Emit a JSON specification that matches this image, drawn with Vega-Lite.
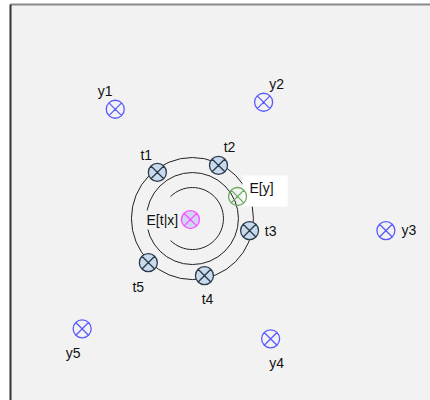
{
  "$schema": "https://vega.github.io/schema/vega-lite/v6.json",
  "width": 430,
  "height": 400,
  "autosize": {"type": "fit", "contains": "padding"},
  "padding": {"left": 10, "top": 4, "right": 0, "bottom": 0},
  "background": "white",
  "config": {
    "view": {"fill": "#f2f2f2", "stroke": null},
    "axis": {"labels": false, "ticks": false, "grid": false, "title": null}
  },
  "datasets": {
    "rings": [
      {"ring": "outer", "x": 193, "y": 181},
      {"ring": "middle", "x": 193, "y": 181},
      {"ring": "inner", "x": 193, "y": 181}
    ],
    "boxes": [
      {"box": "Ey", "x": 243, "x2": 288, "y": 193, "y2": 224},
      {"box": "Etx", "x": 146, "x2": 181, "y": 170, "y2": 189}
    ],
    "markers": [
      {"id": "y1", "kind": "y", "x": 116, "y": 290},
      {"id": "y2", "kind": "y", "x": 264, "y": 297},
      {"id": "y3", "kind": "y", "x": 386, "y": 169},
      {"id": "y4", "kind": "y", "x": 271, "y": 61},
      {"id": "y5", "kind": "y", "x": 83, "y": 71},
      {"id": "t1", "kind": "t", "x": 158, "y": 227},
      {"id": "t2", "kind": "t", "x": 219, "y": 234},
      {"id": "t3", "kind": "t", "x": 250, "y": 169},
      {"id": "t4", "kind": "t", "x": 205, "y": 124},
      {"id": "t5", "kind": "t", "x": 149, "y": 137},
      {"id": "E[t|x]", "kind": "Etx", "x": 191, "y": 180},
      {"id": "E[y]", "kind": "Ey", "x": 238, "y": 203}
    ],
    "labels": [
      {"label": "y1", "x": 106, "y": 307},
      {"label": "y2", "x": 277, "y": 314},
      {"label": "y3", "x": 409, "y": 169},
      {"label": "y4", "x": 277, "y": 36},
      {"label": "y5", "x": 74, "y": 46},
      {"label": "t1", "x": 147, "y": 243},
      {"label": "t2", "x": 230, "y": 251},
      {"label": "t3", "x": 271, "y": 168},
      {"label": "t4", "x": 208, "y": 100},
      {"label": "t5", "x": 139, "y": 112},
      {"label": "E[t|x]", "x": 163, "y": 179},
      {"label": "E[y]", "x": 262, "y": 210}
    ]
  },
  "layer": [
    {
      "data": {"name": "rings"},
      "transform": [{"filter": "datum.ring === 'outer'"}],
      "mark": {"type": "point", "shape": "circle", "size": 14884, "filled": false, "stroke": "#222222", "strokeWidth": 1, "opacity": 1},
      "encoding": {
        "x": {"field": "x", "type": "quantitative", "scale": {"domain": [11, 430], "nice": false, "zero": false}, "axis": {"orient": "top", "domain": true, "domainColor": "#8a8a8a", "domainWidth": 2}},
        "y": {"field": "y", "type": "quantitative", "scale": {"domain": [0, 395], "nice": false, "zero": false}, "axis": {"orient": "left", "domain": true, "domainColor": "#333333", "domainWidth": 2}}
      }
    },
    {
      "data": {"name": "rings"},
      "transform": [{"filter": "datum.ring === 'middle'"}],
      "mark": {"type": "point", "shape": "circle", "size": 8464, "filled": false, "stroke": "#222222", "strokeWidth": 1, "opacity": 1},
      "encoding": {
        "x": {"field": "x", "type": "quantitative"},
        "y": {"field": "y", "type": "quantitative"}
      }
    },
    {
      "data": {"name": "rings"},
      "transform": [{"filter": "datum.ring === 'inner'"}],
      "mark": {"type": "point", "shape": "M -0.707 -0.707 A 1 1 0 1 1 -0.707 0.707", "size": 3844, "filled": false, "stroke": "#222222", "strokeWidth": 1, "opacity": 1},
      "encoding": {
        "x": {"field": "x", "type": "quantitative"},
        "y": {"field": "y", "type": "quantitative"}
      }
    },
    {
      "data": {"name": "boxes"},
      "mark": {"type": "rect"},
      "encoding": {
        "x": {"field": "x", "type": "quantitative"},
        "x2": {"field": "x2"},
        "y": {"field": "y", "type": "quantitative"},
        "y2": {"field": "y2"},
        "fill": {"field": "box", "type": "nominal", "scale": {"domain": ["Ey", "Etx"], "range": ["#ffffff", "#f2f2f2"]}, "legend": null}
      }
    },
    {
      "data": {"name": "markers"},
      "mark": {"type": "point", "shape": "M -1 0 A 1 1 0 1 0 1 0 A 1 1 0 1 0 -1 0 Z M -0.707 -0.707 L 0.707 0.707 M -0.707 0.707 L 0.707 -0.707", "size": 324, "filled": true, "strokeWidth": 1.3, "opacity": 1},
      "encoding": {
        "x": {"field": "x", "type": "quantitative"},
        "y": {"field": "y", "type": "quantitative"},
        "fill": {"field": "kind", "type": "nominal", "scale": {"domain": ["y", "t", "Etx", "Ey"], "range": ["transparent", "#c8dbee", "#cdd6f4", "transparent"]}, "legend": null},
        "stroke": {"field": "kind", "type": "nominal", "scale": {"domain": ["y", "t", "Etx", "Ey"], "range": ["#5a5aff", "#2d3a48", "#ff4dff", "#6aaa5a"]}, "legend": null}
      }
    },
    {
      "data": {"name": "labels"},
      "mark": {"type": "text", "font": "Liberation Sans", "fontSize": 14, "fill": "#111111", "align": "center", "baseline": "middle"},
      "encoding": {
        "x": {"field": "x", "type": "quantitative"},
        "y": {"field": "y", "type": "quantitative"},
        "text": {"field": "label"}
      }
    }
  ],
  "resolve": {"scale": {"fill": "independent"}}
}
